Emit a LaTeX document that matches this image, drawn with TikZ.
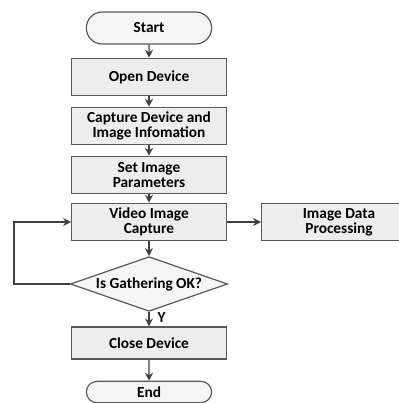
\documentclass[tikz,border=0pt]{standalone}
\usepackage{fontspec}
\setmainfont{Carlito}
\usetikzlibrary{shapes.misc,shapes.geometric,arrows.meta,positioning}

\begin{document}
\begin{tikzpicture}[x=0.75pt,y=-0.75pt,inner sep=0pt,
                    >={Stealth[length=6pt,width=6pt]},
                    font=\fontsize{11.5}{11}\selectfont\bfseries,
                    every edge/.style={draw=black!75,line width=0.9pt},
                    proc/.style={rectangle,draw=black!65,fill=black!7,line width=0.9pt,
                                 minimum width=116pt,minimum height=28pt,align=center},
                    term/.style={rounded rectangle,draw=black!65,fill=black!4,line width=0.9pt,
                                 minimum width=94pt,minimum height=24pt},
                    decide/.style={diamond,draw=black!65,fill=black!4,line width=0.9pt,aspect=2.9,
                                   minimum width=118pt,minimum height=41pt}]
    \useasboundingbox (0,0) rectangle (399,403);

    \node at (149, 28) (start)   [term]              {Start};
    \node at (149, 77) (open)    [proc]              {Open Device}
        edge [<-] (start);
    \node at (149,126) (info)    [proc]              {Capture Device and\\Image Infomation}
        edge [<-] (open);
    \node at (149,175) (param)   [proc]              {Set Image\\Parameters}
        edge [<-] (info);
    \node at (149,222) (video)   [proc]              {Video Image\\Capture}
        edge [<-] (param);
    \node at (339,222) (process) [proc]              {Image Data\\Processing}
        edge [<-] (video);
    \node at (149,284) (check)   [decide]            {Is Gathering OK?}
        edge [<-] (video);
    \node at (149,343) (close)   [proc, minimum height=24pt] {Close Device}
        edge [<-] node [right=6pt, pos=0.6] {Y} (check);
    \node at (149,392) (stop)    [term, minimum height=16pt] {End}
        edge [<-] (close);

    % loop back when gathering fails
    \coordinate (back) at (14,222);
    \draw [draw=black!75, line width=0.9pt, ->] (check.west) -| (back) -- (video.west);
\end{tikzpicture}
\end{document}
